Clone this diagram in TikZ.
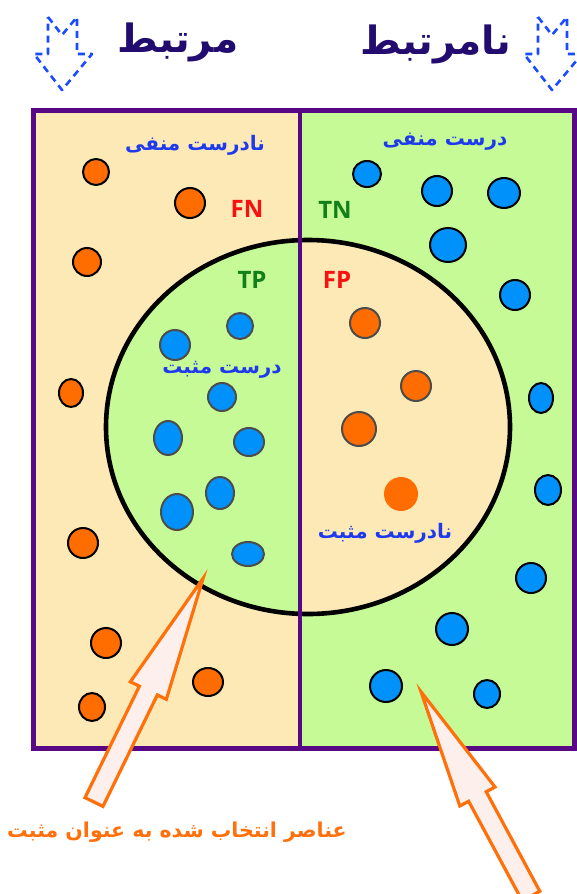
\documentclass[tikz,border=0pt]{standalone}
\usepackage{fontspec}
\setmainfont{Open Sans}
\newfontfamily\fa[Script=Arabic]{DejaVu Sans}
\TeXXeTstate=1
\usepackage{tikz}
\usetikzlibrary{positioning}
\usepackage{xcolor}
\definecolor{peach}{RGB}{253,233,182}
\definecolor{lime}{RGB}{198,250,150}
\definecolor{frame}{RGB}{88,8,132}
\definecolor{dotblue}{RGB}{0,146,250}
\definecolor{dotorange}{RGB}{255,108,0}
\definecolor{labelblue}{RGB}{30,58,236}
\definecolor{titleink}{RGB}{34,12,112}
\definecolor{tpgreen}{RGB}{18,128,24}
\definecolor{fnred}{RGB}{250,16,16}
\definecolor{pointer}{RGB}{255,112,10}
\definecolor{pointerfill}{RGB}{253,240,236}
\definecolor{dropblue}{RGB}{26,76,255}

\tikzset{
  title/.style={text=titleink,font=\fa\bfseries\fontsize{39}{44}\selectfont},
  faLabel/.style={text=labelblue,font=\fa\bfseries\fontsize{20}{24}\selectfont},
  tag/.style={font=\bfseries\fontsize{24}{28}\selectfont},
  bluedot/.style={fill=dotblue,draw=black,line width=2pt},
  orangedot/.style={fill=dotorange,draw=black,line width=2pt},
  drop/.style={draw=dropblue,line width=2.6pt,dash pattern=on 7pt off 5pt,line join=round},
  pointerarrow/.style={draw=pointer,fill=pointerfill,line width=3.2pt,line join=miter}
}

\begin{document}
\begin{tikzpicture}[x=1pt,y=-1pt]
  \useasboundingbox (0,0) rectangle (576,894);
  \fill[white] (0,0) rectangle (576,894);
  % two halves of the frame
  \fill[peach] (33,110) rectangle (300,748);
  \fill[lime] (300,110) rectangle (574,748);
  % selected region, colours swapped inside
  \begin{scope}
    \clip (33,110) rectangle (300,748);
    \fill[lime] (308,427) ellipse [x radius=202, y radius=187];
  \end{scope}
  \begin{scope}
    \clip (300,110) rectangle (574,748);
    \fill[peach] (308,427) ellipse [x radius=202, y radius=187];
  \end{scope}
  \draw[black,line width=4.6pt] (308,427) ellipse [x radius=202, y radius=187];
  % frame and split line
  \draw[frame,line width=4pt] (300,110) -- (300,748);
  \draw[frame,line width=5pt] (33,110) rectangle (574,748);

  % relevant items outside the selection
  \foreach \px/\py/\rx/\ry in {96/172/13/13, 190/203/15/15, 87/262/14/14, 71/393/12/14,
      83/543/15/15, 106/643/15/15, 208/682/15/14, 92/707/13/14}
    \draw[orangedot] (\px,\py) ellipse [x radius=\rx, y radius=\ry];
  % irrelevant items outside the selection
  \foreach \px/\py/\rx/\ry in {367/174/14/13, 437/191/15/15, 504/193/16/15, 448/245/18/17,
      515/295/15/15, 541/398/12/15, 548/490/13/15, 531/578/15/15, 452/629/16/16,
      386/686/16/16, 487/694/13/14}
    \draw[bluedot] (\px,\py) ellipse [x radius=\rx, y radius=\ry];
  % true positives
  \foreach \px/\py/\rx/\ry in {240/326/13/13, 175/345/15/15, 222/397/14/14, 168/438/14/17,
      249/442/15/14, 220/493/14/16, 177/512/16/18, 248/554/16/12}
    \draw[bluedot,draw=black!70] (\px,\py) ellipse [x radius=\rx, y radius=\ry];
  % false positives
  \foreach \px/\py/\rr in {365/323/15, 416/386/15, 359/429/17}
    \draw[orangedot,draw=black!70] (\px,\py) circle (\rr);
  \fill[dotorange] (401,494) circle (17);

  % column headings with drop arrows
  \node[title] (relTitle) at (178,42) {\beginR مرتبط\endR};
  \node[title] (irrTitle) at (436,44) {\beginR نامرتبط\endR};
  \foreach \ax in {62,552}
    \draw[drop,shift={(\ax,0)}] (-14,17) -- (0,35) -- (15,17) -- (15,54) -- (30,54)
      -- (0,90) -- (-28,54) -- (-14,54) -- cycle;

  % quadrant labels
  \node[faLabel] (fnText) at (195,145) {\beginR نادرست منفی\endR};
  \node[faLabel] (tnText) at (445,142) {\beginR درست منفی\endR};
  \node[faLabel] (tpText) at (222,370) {\beginR درست مثبت\endR};
  \node[faLabel] (fpText) at (385,533) {\beginR نادرست مثبت\endR};
  \node[tag,text=fnred] (fnTag) at (247,209) {FN};
  \node[tag,text=tpgreen] (tnTag) at (335,210) {TN};
  \node[tag,text=tpgreen] (tpTag) at (252,280) {TP};
  \node[tag,text=fnred] (fpTag) at (337,280) {FP};

  % pointers to the selection
  \draw[pointerarrow,shift={(94,802)},rotate=64]
    (0,-10) -- (124,-10) -- (124,-20) -- (249,0) -- (124,20) -- (124,10) -- (0,10) -- cycle;
  \draw[pointerarrow,shift={(531,896)},rotate=118.3]
    (0,-10) -- (113,-10) -- (113,-20) -- (232,0) -- (113,20) -- (113,10) -- (0,10) -- cycle;
  \node[text=pointer,font=\fa\bfseries\fontsize{20.5}{24}\selectfont] (selText) at (177,832)
    {\beginR عناصر انتخاب شده به عنوان مثبت\endR};
\end{tikzpicture}
\end{document}
